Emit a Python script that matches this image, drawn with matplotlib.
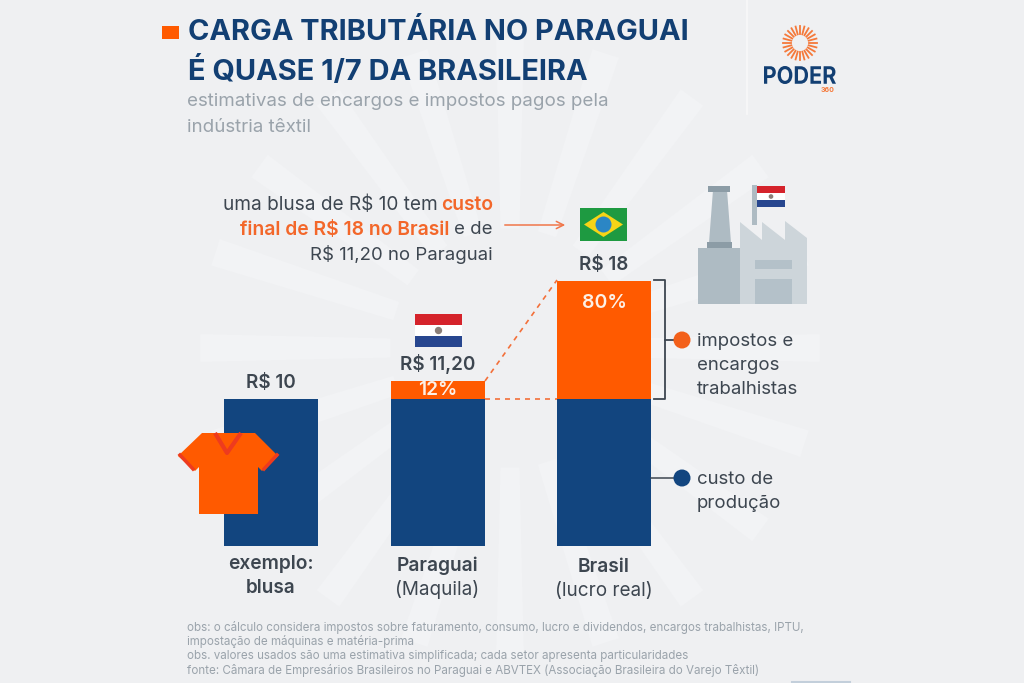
import numpy as np
import matplotlib
matplotlib.use('Agg')
import matplotlib.pyplot as plt
from matplotlib.patches import Polygon, Rectangle, Circle, PathPatch
from matplotlib.textpath import TextPath
from matplotlib.font_manager import FontProperties
from matplotlib.transforms import Affine2D

plt.rcParams['font.family'] = ['Inter', 'DejaVu Sans']

categories = ['exemplo:', 'Paraguai', 'Brasil']
subcategories = ['blusa', '(Maquila)', '(lucro real)']
custo = [10, 10, 10]
impostos = [0, 1.2, 8]
totais = ['R$ 10', 'R$ 11,20', 'R$ 18']

NAVY = '#12457f'
ORANGE = '#ff5a00'
TITLE = '#123f73'
DARK = '#3d4650'
GREY = '#9aa3ab'
BG = '#eff0f2'

fig = plt.figure(figsize=(10.24, 6.83), dpi=100, facecolor=BG)

# pixel layer for everything that is decoration
bg = fig.add_axes([0, 0, 1, 1], zorder=0)
bg.set_xlim(0, 1024)
bg.set_ylim(683, 0)
bg.axis('off')

# faint rays behind the chart
cx, cy = 510, 348
for ang in np.arange(0, 360, 18):
    a = np.radians(ang)
    d0, d1 = 0.08, 0.045
    r0, r1 = 120, 310
    pts = [(cx + r0 * np.cos(a - d0), cy + r0 * np.sin(a - d0)),
           (cx + r1 * np.cos(a - d1), cy + r1 * np.sin(a - d1)),
           (cx + r1 * np.cos(a + d1), cy + r1 * np.sin(a + d1)),
           (cx + r0 * np.cos(a + d0), cy + r0 * np.sin(a + d0))]
    bg.add_patch(Polygon(pts, fc='#f2f3f5', ec='none'))

# chart: 14.75 px per real
ax = fig.add_axes([156 / 1024, (683 - 546) / 683, 532 / 1024, 14.75 * 20 / 683], zorder=1)
ax.patch.set_alpha(0)
ax.axis('off')
x = np.arange(3)
ax.set_xlim(-115 / 166.5, 417 / 166.5)
ax.set_ylim(0, 20)
ax.bar(x, custo, width=94 / 166.5, color=NAVY)
ax.bar(x, impostos, width=94 / 166.5, bottom=custo, color=ORANGE)

for i in range(3):
    ax.annotate(totais[i], (x[i], custo[i] + impostos[i]), xytext=(0, 5),
                textcoords='offset points', ha='center', va='bottom',
                fontsize=13.6, fontweight='semibold', color=DARK)
    ax.annotate(categories[i], (x[i], 0), xytext=(0, -18 * 0.72 - i), textcoords='offset points',
                ha='center', va='center', fontsize=13.8, fontweight='semibold', color=DARK)
    ax.annotate(subcategories[i], (x[i], 0), xytext=(0, -42 * 0.72 - i), textcoords='offset points',
                ha='center', va='center', fontsize=13.6,
                fontweight='semibold' if i == 0 else 'normal', color=DARK)

ax.annotate('12%', (1, 10.55), ha='center', va='center', fontsize=13.8,
            fontweight='semibold', color='#fdf0e6')
ax.annotate('80%', (2, 16.5), ha='center', va='center', fontsize=14,
            fontweight='semibold', color='#fdf0e6')

top = fig.add_axes([0, 0, 1, 1], zorder=2)
top.set_xlim(0, 1024)
top.set_ylim(683, 0)
top.axis('off')

# title block
top.add_patch(Rectangle((162, 26), 17, 13, fc=ORANGE, ec='none'))
top.text(188, 33, 'CARGA TRIBUTÁRIA NO PARAGUAI', fontsize=20.9, fontweight='bold',
         color=TITLE, va='center')
top.text(188, 71, 'É QUASE 1/7 DA BRASILEIRA', fontsize=20.9, fontweight='bold',
         color=TITLE, va='center')
top.text(187, 102, 'estimativas de encargos e impostos pagos pela', fontsize=13.5,
         color=GREY, va='center')
top.text(187, 127, 'indústria têxtil', fontsize=13.5, color=GREY, va='center')

# logo
top.plot([747, 747], [0, 114], color='#f8f8f9', lw=1.2)
for ang in np.arange(0, 360, 15):
    a = np.radians(ang)
    top.plot([800 + 9 * np.cos(a), 800 + 17 * np.cos(a)],
             [43 + 9 * np.sin(a), 43 + 17 * np.sin(a)], color='#f5793a', lw=1.3)
# squeezed wordmark, no condensed face is installed
tp = TextPath((0, 0), 'PODER', size=18, prop=FontProperties(family='Inter', weight='bold'))
bb = tp.get_extents()
tr = Affine2D().translate(-bb.x0, -bb.y0).scale(72 / bb.width, -18 / bb.height).translate(764, 84)
top.add_patch(PathPatch(tp, fc=TITLE, ec='none', transform=tr + top.transData))
top.text(828, 90, '360', fontsize=5, fontweight='bold', color='#f5793a', ha='center', va='center')

# callout text
fs = 13.4
top.text(493, 205, 'custo', fontsize=13.9, fontweight='semibold', color='#f3672a', ha='right', va='center')
top.text(438, 205, 'uma blusa de R$ 10 tem', fontsize=13.7, color=DARK, ha='right', va='center')
top.text(449, 230, 'final de R$ 18 no Brasil', fontsize=13.9, fontweight='semibold', color='#f3672a',
         ha='right', va='center')
top.text(493, 230, 'e de', fontsize=fs, color=DARK, ha='right', va='center')
top.text(493, 254, 'R$ 11,20 no Paraguai', fontsize=fs, color=DARK, ha='right', va='center')
top.annotate('', xy=(568, 225), xytext=(502, 225),
             arrowprops=dict(arrowstyle='->', color='#f0764a', lw=1.1, mutation_scale=13))


def paraguai(x0, y0, w, h):
    top.add_patch(Rectangle((x0, y0), w, h / 3, fc='#d5232b', ec='none'))
    top.add_patch(Rectangle((x0, y0 + h / 3), w, h / 3, fc='#ffffff', ec='none'))
    top.add_patch(Rectangle((x0, y0 + 2 * h / 3), w, h / 3, fc='#27468f', ec='none'))
    top.add_patch(Circle((x0 + w / 2, y0 + h / 2), h / 9, fc='#8b7f78', ec='none'))


paraguai(415, 314, 47, 33)

# Brazil flag
top.add_patch(Rectangle((580, 208), 47, 33, fc='#1e9a41', ec='none'))
top.add_patch(Polygon([(584, 224.5), (603.5, 212), (623, 224.5), (603.5, 237)], fc='#f7d417', ec='none'))
top.add_patch(Circle((603.5, 224.5), 8, fc='#2b86c5', ec='none'))

# shirt
shirt = [(202, 433), (255, 433), (278, 456), (262, 471), (258, 467), (258, 514),
         (199, 514), (199, 467), (195, 471), (178, 456)]
top.add_patch(Polygon(shirt, fc=ORANGE, ec='none'))
top.plot([215, 227, 241], [433, 453, 433], color='#ee3b1e', lw=3, solid_capstyle='butt')
top.plot([180, 193], [455, 469], color='#ee3b1e', lw=2.5)
top.plot([264, 277], [469, 455], color='#ee3b1e', lw=2.5)

# dashed links between the bars
top.plot([485, 557], [381, 280], color='#f3703a', lw=1.2, ls=(0, (3, 3)))
top.plot([485, 557], [399, 399], color='#f3703a', lw=1.2, ls=(0, (3, 3)))

# bracket and legend
top.plot([654, 665, 665, 654], [280, 280, 399, 399], color=DARK, lw=1.3)
top.plot([665, 676], [340, 340], color=DARK, lw=1.3)
top.add_patch(Circle((682, 340), 8.5, fc='#f3601a', ec='none', zorder=5))
top.text(697, 341, 'impostos e', fontsize=fs, color=DARK, va='center')
top.text(697, 366, 'encargos', fontsize=fs, color=DARK, va='center')
top.text(697, 390, 'trabalhistas', fontsize=fs, color=DARK, va='center')
top.plot([651, 676], [478, 478], color=DARK, lw=1.1)
top.add_patch(Circle((682, 478), 8.5, fc=NAVY, ec='none', zorder=5))
top.text(697, 479, 'custo de', fontsize=fs, color=DARK, va='center')
top.text(697, 504, 'produção', fontsize=fs, color=DARK, va='center')

# factory
F1, F2, F3, F4 = '#aebbc3', '#cdd5da', '#8c9ca6', '#b4c1c9'
top.add_patch(Polygon([(709, 243), (713, 190), (727, 190), (731, 243)], fc=F1, ec='none'))
top.add_patch(Rectangle((708, 186), 22, 6, fc=F3, ec='none'))
top.add_patch(Rectangle((707, 242), 25, 6, fc=F3, ec='none'))
top.add_patch(Rectangle((698, 248), 43, 56, fc=F1, ec='none'))
top.add_patch(Rectangle((752, 185), 5, 40, fc=F1, ec='none'))
top.add_patch(Polygon([(740, 304), (740, 222), (762, 240), (762, 222), (785, 240), (785, 221),
                       (807, 238), (807, 304)], fc=F2, ec='none'))
top.add_patch(Rectangle((755, 260), 37, 9, fc=F4, ec='none'))
top.add_patch(Rectangle((755, 279), 37, 25, fc=F4, ec='none'))
paraguai(757, 186, 28, 21)

# footnotes
notes = ['obs: o cálculo considera impostos sobre faturamento, consumo, lucro e dividendos, encargos trabalhistas, IPTU,',
         'impostação de máquinas e matéria-prima',
         'obs. valores usados são uma estimativa simplificada; cada setor apresenta particularidades',
         'fonte: Câmara de Empresários Brasileiros no Paraguai e ABVTEX (Associação Brasileira do Varejo Têxtil)']
for i, n in enumerate(notes):
    top.text(187, 627 + i * 14.5, n, fontsize=8.35, color=GREY, va='center')
top.plot([792, 850], [682, 682], color='#c3cfdb', lw=1.5)

fig.savefig('out.png', dpi=100, facecolor=BG)
